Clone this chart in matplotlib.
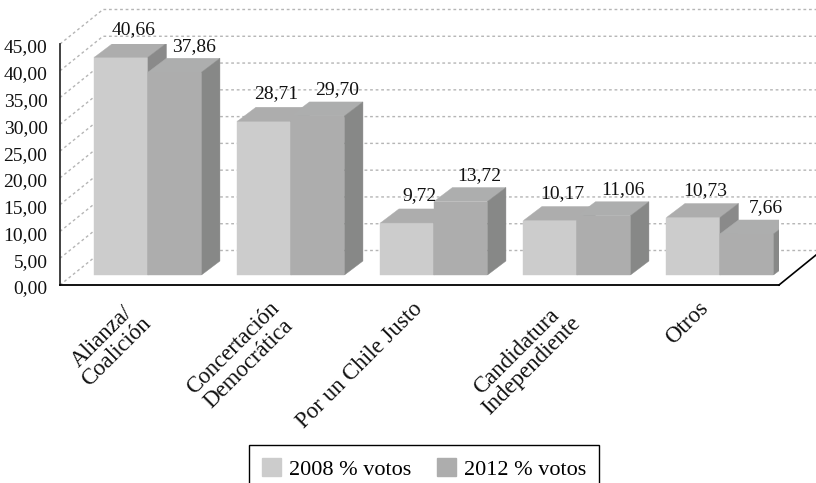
import matplotlib
matplotlib.use("Agg")
import matplotlib.pyplot as plt
from matplotlib.patches import Patch
from matplotlib.transforms import ScaledTranslation

plt.rcParams['font.family'] = ['Liberation Serif', 'DejaVu Serif']

categories = ['Alianza/\nCoalición', 'Concertación\nDemocrática', 'Por un Chile Justo',
              'Candidatura\nIndependiente', 'Otros']
votos_2008 = [40.66, 28.71, 9.72, 10.17, 10.73]
votos_2012 = [37.86, 29.70, 13.72, 11.06, 7.66]
etiquetas_2008 = ['40,66', '28,71', '9,72', '10,17', '10,73']
etiquetas_2012 = ['37,86', '29,70', '13,72', '11,06', '7,66']
yticks = [0, 5, 10, 15, 20, 25, 30, 35, 40, 45]
yticklabels = ['0,00', '5,00', '10,00', '15,00', '20,00', '25,00', '30,00', '35,00', '40,00', '45,00']
series_names = ['2008 % votos', '2012 % votos']

W, H = 816, 483
fig = plt.figure(figsize=(W / 100, H / 100), dpi=100)
# axes box in pixels: x 60..779, y 44..285
ax = fig.add_axes([60 / W, 1 - 285 / H, 719 / W, 241 / H])
ax.set_xlim(-0.615, 4.413)
ax.set_ylim(0, 45)
ux = 143.0  # px per category
uy = 241 / 45  # px per y unit

# floor/back wall offsets, converted from px to data
wall_dx, wall_dy = 43 / ux, 34.5 / uy
bar_dx, bar_dy = 18.5 / ux, 14 / uy
base = 10 / uy
bw = 53.5 / ux

xmax_wall = 4.413 + 37 / ux
for v in yticks:
    ax.plot([-0.615, -0.615 + wall_dx, xmax_wall], [v, v + wall_dy, v + wall_dy], color='#b5b5b5',
            lw=1, ls=(0, (2, 2)), clip_on=False, zorder=1)

ax.plot([4.413, xmax_wall], [0, 30 / uy], color='black', lw=1.2, clip_on=False, zorder=2)


def box(x, val, front, top, side):
    ax.bar(x, val, bw, bottom=base, align='edge', color=front, edgecolor=front, lw=0.3, zorder=3)
    ax.fill([x, x + bw, x + bw + bar_dx, x + bar_dx],
            [base + val, base + val, base + val + bar_dy, base + val + bar_dy],
            facecolor=top, edgecolor=top, lw=0.3, zorder=3)
    ax.fill([x + bw, x + bw + bar_dx, x + bw + bar_dx, x + bw],
            [base, base + bar_dy, base + val + bar_dy, base + val],
            facecolor=side, edgecolor=side, lw=0.3, zorder=3)


for i in range(len(categories)):
    box(i - bw, votos_2008[i], '#cccccc', '#adadad', '#8a8a8a')
for i in range(len(categories)):
    box(i, votos_2012[i], '#adadad', '#adaeae', '#878887')

for i in range(len(categories)):
    ax.annotate(etiquetas_2008[i], (i - bw / 2 + bar_dx / 2, base + votos_2008[i] + bar_dy + 0.4),
                xytext=(2, 2), textcoords='offset points', annotation_clip=False,
                ha='center', va='bottom', fontsize=14, color='#111111', zorder=5)
    ax.annotate(etiquetas_2012[i], (i + bw / 2 + bar_dx / 2 + 0.02, base + votos_2012[i] + bar_dy + 0.4),
                xytext=(5, 1), textcoords='offset points', annotation_clip=False,
                ha='center', va='bottom', fontsize=14, color='#111111', zorder=5)

ax.set_yticks(yticks)
ax.set_yticklabels(yticklabels, fontsize=14, color='#111111')
ax.set_xticks(range(len(categories)))
ax.set_xticklabels(categories, fontsize=16.5, rotation=45, ha='right', rotation_mode='anchor',
                   multialignment='center', linespacing=1.0, color='#111111')
ax.tick_params(axis='both', length=0)
ax.tick_params(axis='y', pad=9)
ax.tick_params(axis='x', pad=8)

# nudge the labels to where the original has them
for lab in ax.get_yticklabels():
    lab.set_transform(lab.get_transform() + ScaledTranslation(0, -2 / 100, fig.dpi_scale_trans))
for lab in ax.get_xticklabels():
    lab.set_transform(lab.get_transform() + ScaledTranslation(-22 / 100, -2 / 100, fig.dpi_scale_trans))

ax.spines['top'].set_visible(False)
ax.spines['right'].set_visible(False)
ax.spines['left'].set_color('#333333')
ax.spines['left'].set_linewidth(1.3)
ax.spines['bottom'].set_color('black')
ax.spines['bottom'].set_linewidth(1.3)
ax.patch.set_alpha(0)

handles = [Patch(color='#cccccc'), Patch(color='#adadad')]
leg = fig.legend(handles, series_names, ncol=2, loc='lower left', bbox_to_anchor=(249 / W, -10 / H),
                 bbox_transform=fig.transFigure, fontsize=16, frameon=True, fancybox=False,
                 edgecolor='black', framealpha=1, borderaxespad=0, handlelength=0.86, handleheight=0.86,
                 handletextpad=0.36, columnspacing=1.12, borderpad=0.6)
leg.get_frame().set_linewidth(1.0)

fig.savefig('out.png', dpi=100)
